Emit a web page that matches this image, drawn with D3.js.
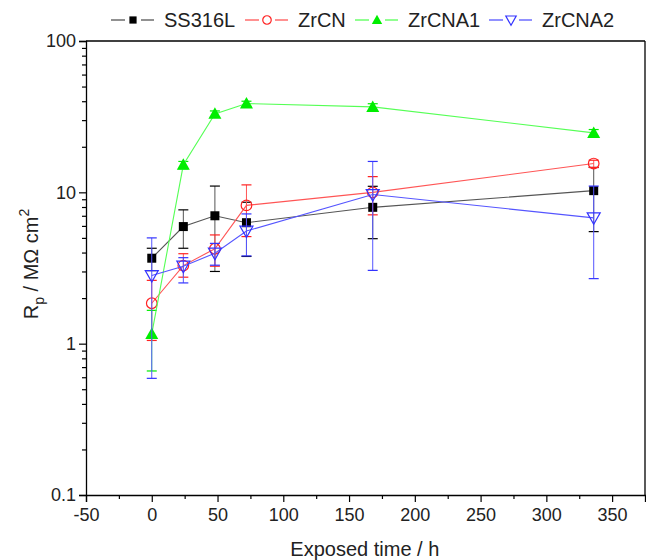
<!DOCTYPE html>
<html>
<head>
<meta charset="utf-8">
<script src="https://cdn.jsdelivr.net/npm/d3@7"></script>
<style>
  body { margin: 0; background: #fff; }
  svg text { font-family: "Liberation Sans", Arial, sans-serif; fill: #222; }
</style>
</head>
<body>
<div id="chart"></div>
<script>
// values
var times = [0, 24, 48, 72, 168, 336];

var ss316l   = [3.67, 5.94, 7.0, 6.3, 7.96, 10.26];
var ss316lLo = [3.04, 4.27, 3.0, 3.77, 4.94, 5.5];
var ss316lHi = [4.27, 7.66, 11.0, 8.6, 10.96, 14.6];

var zrcn   = [1.85, 3.28, 4.24, 8.2, 10.0, 15.5];
var zrcnLo = [1.05, 2.75, 3.25, 5.1, 7.1, 14.6];
var zrcnHi = [2.62, 3.93, 5.23, 11.2, 12.7, 16.3];

var zrcna1   = [1.16, 15.2, 33, 38.6, 36.7, 24.7];
var zrcna1Lo = [0.66, 14.3, 31.5, 37, 34.5, 23.5];
var zrcna1Hi = [1.66, 16.0, 34.5, 40, 38.5, 26];

var zrcna2   = [2.82, 3.25, 3.96, 5.55, 9.67, 6.78];
var zrcna2Lo = [0.59, 2.52, 3.3, 3.8, 3.05, 2.69];
var zrcna2Hi = [5.0, 3.7, 4.6, 7.2, 16.0, 11.0];

var xTicks = [-50, 0, 50, 100, 150, 200, 250, 300, 350];
var yTicks = [0.1, 1, 10, 100];
var yTickLabels = ["0.1", "1", "10", "100"];

var series = [
  {name: "SS316L",  v: ss316l, lo: ss316lLo, hi: ss316lHi, line: "#555", mark: "#000", sym: "square"},
  {name: "ZrCN",    v: zrcn,   lo: zrcnLo,   hi: zrcnHi,   line: "#f55", mark: "#f22", sym: "circle"},
  {name: "ZrCNA1",  v: zrcna1, lo: zrcna1Lo, hi: zrcna1Hi, line: "#5f5", mark: "#0e0", sym: "triangle"},
  {name: "ZrCNA2",  v: zrcna2, lo: zrcna2Lo, hi: zrcna2Hi, line: "#55f", mark: "#33f", sym: "down"}
];

var margin = {top: 41, right: 1, bottom: 65, left: 86};
var W = 646, H = 560;
var width = W - margin.left - margin.right;
var height = H - margin.top - margin.bottom;

var svg = d3.select("#chart").append("svg")
  .attr("width", W).attr("height", H);
var g = svg.append("g")
  .attr("transform", "translate(" + margin.left + "," + margin.top + ")");

var x = d3.scaleLinear().domain([-50, 375]).range([0, width]);
var y = d3.scaleLog().domain([0.1, 100]).range([height, 0]);

// minor ticks
var xMinor = d3.range(-25, 375, 50);
var yMinor = [];
[0.1, 1, 10].forEach(function(d) {
  for (var k = 2; k <= 9; k++) yMinor.push(d * k);
});

// x axis
g.append("g").attr("transform", "translate(0," + height + ")")
  .call(d3.axisBottom(x).tickValues(xTicks).tickSize(7).tickPadding(6).tickFormat(function(d) { return String(d); }));
g.append("g").attr("transform", "translate(0," + height + ")")
  .call(d3.axisBottom(x).tickValues(xMinor).tickSize(4).tickFormat(""))
  .select(".domain").remove();

// y axis
g.append("g")
  .call(d3.axisLeft(y).tickValues(yTicks).tickSize(7).tickPadding(3).tickFormat(function(d, i) { return yTickLabels[i]; }));
g.append("g")
  .call(d3.axisLeft(y).tickValues(yMinor).tickSize(4).tickFormat(""))
  .select(".domain").remove();

g.selectAll(".domain").attr("stroke", "#000").attr("stroke-width", 1.3);
g.selectAll(".tick line").attr("stroke", "#000").attr("stroke-width", 1.2);
g.selectAll(".tick text").style("font-size", "18px").attr("fill", "#222");

// top + right frame
g.append("line").attr("x1", 0).attr("x2", width).attr("y1", 0).attr("y2", 0)
  .attr("stroke", "#000").attr("stroke-width", 1.3);
g.append("line").attr("x1", width).attr("x2", width).attr("y1", 0).attr("y2", height)
  .attr("stroke", "#000").attr("stroke-width", 1.3);

function drawSym(sel, sym, color, k) {
  k = k || 1;
  if (sym === "square") {
    sel.append("rect").attr("x", -4.5 * k).attr("y", -4.5 * k).attr("width", 9 * k).attr("height", 9 * k)
      .attr("fill", color);
  } else if (sym === "circle") {
    sel.append("circle").attr("r", 5.3 * k).attr("fill", "none")
      .attr("stroke", color).attr("stroke-width", 1.2);
  } else if (sym === "triangle") {
    sel.append("path").attr("d", d3.line()([[0, -6.5 * k], [6.5 * k, 5 * k], [-6.5 * k, 5 * k]]) + "Z").attr("fill", color);
  } else {
    sel.append("path").attr("d", d3.line()([[-6.5 * k, -5 * k], [6.5 * k, -5 * k], [0, 6.5 * k]]) + "Z").attr("fill", "none")
      .attr("stroke", color).attr("stroke-width", 1.2);
  }
}

var line = d3.line()
  .x(function(d) { return x(d[0]); })
  .y(function(d) { return y(d[1]); });

series.forEach(function(s) {
  var pts = times.map(function(t, i) { return [t, s.v[i], s.lo[i], s.hi[i]]; });
  var sg = g.append("g");

  // error bars
  var eb = sg.selectAll(".eb").data(pts).enter().append("g");
  eb.append("line")
    .attr("x1", function(d) { return x(d[0]); }).attr("x2", function(d) { return x(d[0]); })
    .attr("y1", function(d) { return y(d[2]); }).attr("y2", function(d) { return y(d[3]); })
    .attr("stroke", s.line).attr("stroke-width", 1);
  [2, 3].forEach(function(k) {
    eb.append("line")
      .attr("x1", function(d) { return x(d[0]) - 5; }).attr("x2", function(d) { return x(d[0]) + 5; })
      .attr("y1", function(d) { return y(d[k]); }).attr("y2", function(d) { return y(d[k]); })
      .attr("stroke", s.mark).attr("stroke-width", 1.2);
  });

  sg.append("path").datum(pts).attr("d", line)
    .attr("fill", "none").attr("stroke", s.line).attr("stroke-width", 1.1);

  sg.selectAll(".pt").data(pts).enter().append("g")
    .attr("transform", function(d) { return "translate(" + x(d[0]) + "," + y(d[1]) + ")"; })
    .each(function() { drawSym(d3.select(this), s.sym, s.mark); });
});

// legend
var legX = [111, 245, 355, 489];
series.forEach(function(s, i) {
  var lg = svg.append("g").attr("transform", "translate(" + legX[i] + ",20)");
  lg.append("line").attr("x1", 0).attr("x2", 14).attr("stroke", s.line).attr("stroke-width", 1.3);
  lg.append("line").attr("x1", 30).attr("x2", 43).attr("stroke", s.line).attr("stroke-width", 1.3);
  var m = lg.append("g").attr("transform", "translate(22,0)");
  drawSym(m, s.sym, s.mark, 0.8);
  lg.append("text").attr("x", 53).attr("y", 7).style("font-size", "20px").text(s.name);
});

// axis titles
svg.append("text")
  .attr("x", margin.left + x(162)).attr("y", 556)
  .attr("text-anchor", "middle").style("font-size", "20px")
  .text("Exposed time / h");

var yt = svg.append("text")
  .attr("transform", "translate(38," + (margin.top + height / 2 - 4) + ") rotate(-90)")
  .attr("text-anchor", "middle").style("font-size", "20px");
yt.append("tspan").text("R");
yt.append("tspan").attr("dy", 6).style("font-size", "14px").text("p");
yt.append("tspan").attr("dy", -6).text(" / M\u03A9 cm");
yt.append("tspan").attr("dy", -9).style("font-size", "14px").text("2");
</script>
</body>
</html>
